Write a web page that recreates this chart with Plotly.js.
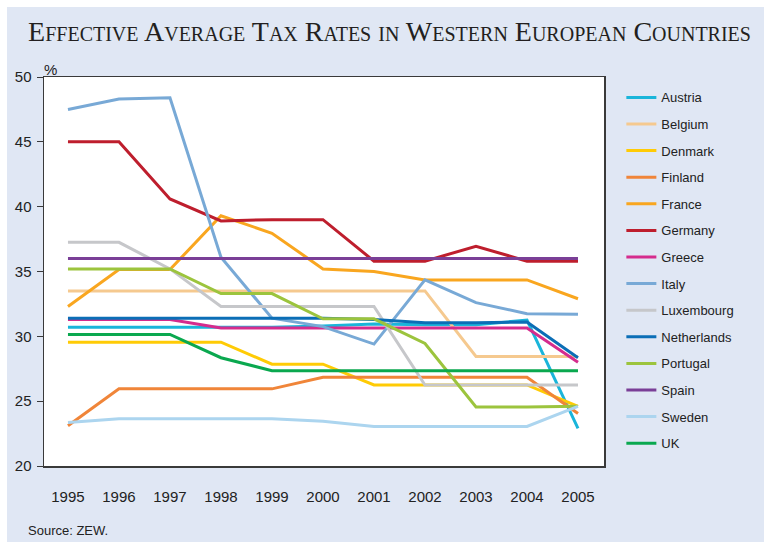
<!DOCTYPE html>
<html>
<head>
<meta charset="utf-8">
<script src="https://cdn.plot.ly/plotly-3.0.1.min.js"></script>
<style>html,body{margin:0;padding:0;background:#fff;}#chart{width:764px;height:542px;}</style>
</head>
<body>
<div id="chart"></div>
<script>
const years = [1995,1996,1997,1998,1999,2000,2001,2002,2003,2004,2005];
const countries = ["Austria","Belgium","Denmark","Finland","France","Germany","Greece","Italy","Luxembourg","Netherlands","Portugal","Spain","Sweden","UK"];
const colors = ["#1ab5da","#f5c98f","#ffcb05","#f08539","#f9a61f","#be1e2d","#d52c8d","#78a9d6","#c6c7ca","#0b6eb6","#9cc43d","#7a3f97","#acd5ef","#0aa84f"];

const austria     = [30.7,30.7,30.7,30.7,30.7,30.8,30.95,30.9,30.9,31.25,22.9];
const belgium     = [33.5,33.5,33.5,33.5,33.5,33.5,33.5,33.5,28.45,28.45,28.45];
const denmark     = [29.55,29.55,29.55,29.55,27.85,27.85,26.25,26.25,26.25,26.25,24.6];
const finland     = [23.1,25.95,25.95,25.95,25.95,26.85,26.85,26.85,26.85,26.85,24.05];
const france      = [32.3,35.15,35.15,39.3,37.95,35.2,35.0,34.35,34.35,34.35,32.9];
const germany     = [45.0,45.0,40.6,38.9,39.0,39.0,35.8,35.8,36.95,35.8,35.8];
const greece      = [31.3,31.3,31.3,30.65,30.65,30.65,30.65,30.65,30.65,30.65,28.0];
const italy       = [47.5,48.3,48.4,36.1,31.4,30.75,29.4,34.35,32.6,31.75,31.7];
const luxembourg  = [37.25,37.25,35.2,32.3,32.3,32.3,32.3,26.25,26.25,26.25,26.25];
const netherlands = [31.4,31.4,31.4,31.4,31.4,31.4,31.3,31.05,31.05,31.1,28.35];
const portugal    = [35.2,35.2,35.2,33.3,33.3,31.35,31.35,29.45,24.55,24.55,24.6];
const spain       = [36.0,36.0,36.0,36.0,36.0,36.0,36.0,36.0,36.0,36.0,36.0];
const sweden      = [23.35,23.65,23.65,23.65,23.65,23.45,23.05,23.05,23.05,23.05,24.6];
const uk          = [30.15,30.15,30.15,28.35,27.35,27.35,27.35,27.35,27.35,27.35,27.35];

const series = [austria,belgium,denmark,finland,france,germany,greece,italy,luxembourg,netherlands,portugal,spain,sweden,uk];
const yTicks = [20,25,30,35,40,45,50];

const traces = countries.map((c,i)=>({
  x: years, y: series[i], name: c, type: 'scatter', mode: 'lines',
  legendgroup: c,
  line: {color: colors[i], width: 3}
}));

const bg = '#e0e7f4';
const layout = {
  width: 764, height: 542,
  paper_bgcolor: bg, plot_bgcolor: '#ffffff',
  margin: {l:44, r:160, t:77, b:76},
  showlegend: true,
  legend: {
    x: 1.031, xanchor: 'left', y: 0.986, yanchor: 'top',
    bgcolor: 'rgba(0,0,0,0)', traceorder: 'grouped', tracegroupgap: 6.7,
    font: {family: 'Liberation Sans, Arial, sans-serif', size: 13, color: '#222'}
  },
  title: {
    text: 'Effective Average Tax Rates in Western European Countries',
    font: {family: 'Liberation Serif, Times New Roman, serif', size: 28, color: '#231f20', variant: 'small-caps'},
    x: 0.617, xanchor: 'center', xref: 'paper', y: 0.942, yanchor: 'middle'
  },
  xaxis: {
    range: [1994.53, 2005.51], tickvals: years, ticktext: years.map(String),
    showgrid: false, zeroline: false, ticks: '',
    showline: true, mirror: true, linecolor: '#3a3a3a', linewidth: 1.5,
    ticklabelstandoff: 16,
    tickfont: {family: 'Liberation Sans, Arial, sans-serif', size: 15, color: '#222'}
  },
  yaxis: {
    range: [20, 50], tickvals: yTicks, ticktext: yTicks.map(String),
    showgrid: false, zeroline: false, ticks: 'outside', ticklen: 6, tickwidth: 1, tickcolor: '#3a3a3a',
    showline: true, mirror: true, linecolor: '#3a3a3a', linewidth: 1.5,
    ticklabelstandoff: 2,
    tickfont: {family: 'Liberation Sans, Arial, sans-serif', size: 15, color: '#222'}
  },
  shapes: [
    {type:'rect', xref:'paper', yref:'paper', x0:-0.2, x1:1.5, y0:1.18, y1:1.3, fillcolor:'#ffffff', line:{width:0}, layer:'below'},
    {type:'rect', xref:'paper', yref:'paper', x0:-0.2, x1:-0.0661, y0:-0.3, y1:1.3, fillcolor:'#ffffff', line:{width:0}, layer:'below'}
  ],
  annotations: [
    {text:'%', xref:'paper', yref:'paper', x:0.011, y:1.018, xanchor:'center', yanchor:'middle', showarrow:false,
     font:{family:'Liberation Sans, Arial, sans-serif', size:15, color:'#222'}},
    {text:'Source: ZEW.', xref:'paper', yref:'paper', x:-0.033, y:-0.167, xanchor:'left', yanchor:'middle', showarrow:false,
     font:{family:'Liberation Sans, Arial, sans-serif', size:13, color:'#222'}}
  ]
};

Plotly.newPlot('chart', traces, layout, {displayModeBar:false, staticPlot:true});
</script>
</body>
</html>
